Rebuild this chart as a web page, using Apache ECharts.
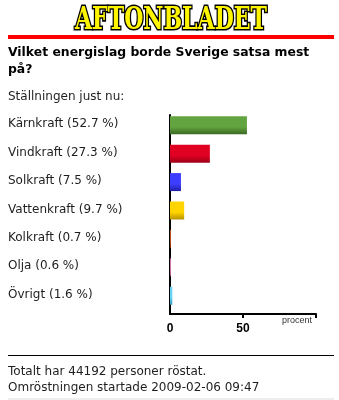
<!DOCTYPE html>
<html><head><meta charset="utf-8">
<script src="https://cdn.jsdelivr.net/npm/echarts@6/dist/echarts.min.js"></script>
<style>html,body{margin:0;padding:0;background:#fff}#c{width:339px;height:400px}</style>
</head><body><div id="c"></div>
<script>
const categories = ['Kärnkraft', 'Vindkraft', 'Solkraft', 'Vattenkraft', 'Kolkraft', 'Olja', 'Övrigt'];
const percentages = [52.7, 27.3, 7.5, 9.7, 0.7, 0.6, 1.6];
const xTickLabels = ['0', '50'];
const axisName = 'procent';
const logoText = 'AFTONBLADET';
const titleLines = ['Vilket energislag borde Sverige satsa mest', 'på?'];
const subtitleText = 'Ställningen just nu:';
const footerLines = ['Totalt har 44192 personer röstat.', 'Omröstningen startade 2009-02-06 09:47'];

const barColors = [
  ['#62a43f', '#3a6823'],
  ['#e00022', '#9c0016'],
  ['#3d3dff', '#1f1fa8'],
  ['#ffd400', '#b89200'],
  ['#c0501a', '#8a3008'],
  ['#ee80c8', '#b05090'],
  ['#66d4f4', '#3a9cc0']
];

const chart = echarts.init(document.getElementById('c'), null, {renderer: 'canvas'});
const txt = '#1e1e1e';
const font = '"DejaVu Sans", Verdana, sans-serif';

chart.setOption({
  animation: false,
  backgroundColor: '#fff',
  grid: {left: 170, top: 115, width: 146, height: 199, containLabel: false},
  xAxis: [{
    type: 'value', min: 0, max: 100, interval: 50,
    axisLine: {show: true, lineStyle: {color: '#000', width: 2}},
    axisTick: {show: true, inside: false, length: 4, lineStyle: {color: '#000', width: 2}, customValues: [50, 100]},
    axisLabel: {
      customValues: [0, 50],
      formatter: v => xTickLabels.includes(String(v)) ? String(v) : '',
      fontFamily: '"Liberation Sans", Arial, sans-serif', fontWeight: 'bold', fontSize: 12, color: '#000', margin: 9
    },
    splitLine: {show: false}
  }],
  yAxis: [{
    type: 'category', inverse: true, data: categories,
    axisLine: {show: true, lineStyle: {color: '#000', width: 2}},
    axisTick: {show: false},
    axisLabel: {
      formatter: (v, i) => `${v} (${percentages[i]} %)`,
      align: 'left', margin: 162, fontFamily: font, fontSize: 12, color: txt,
      verticalAlign: 'bottom', lineHeight: 10
    },
    splitLine: {show: false}
  }],
  series: [{
    type: 'bar', barWidth: 18, barGap: '0%',
    data: percentages.map((v, i) => ({
      value: v,
      itemStyle: {color: new echarts.graphic.LinearGradient(0, 0, 0, 1, [
        {offset: 0, color: barColors[i][0]}, {offset: 0.6, color: barColors[i][0]}, {offset: 1, color: barColors[i][1]}
      ])}
    }))
  }, {
    type: 'bar', barWidth: 8, silent: true,
    data: categories.map(() => '-')
  }],
  graphic: [
    {type: 'text', x: 171, y: 5, scaleX: 0.79, z: 10,
      style: {text: logoText, font: 'bold 31px "DejaVu Serif Condensed", "DejaVu Serif", serif',
        textAlign: 'center', textVerticalAlign: 'top',
        fill: '#fff500', stroke: '#000', lineWidth: 3.2,
        shadowColor: '#000', shadowOffsetX: 2, shadowOffsetY: 3, shadowBlur: 0}},
    {type: 'rect', shape: {x: 8, y: 35, width: 326, height: 4}, style: {fill: '#ff0000'}},
    {type: 'text', x: 8, y: 53, style: {text: titleLines[0], font: 'bold 12.4px ' + font, fill: '#000', verticalAlign: 'middle'}},
    {type: 'text', x: 8, y: 70, style: {text: titleLines[1], font: 'bold 12.4px ' + font, fill: '#000', verticalAlign: 'middle'}},
    {type: 'text', x: 8, y: 97, style: {text: subtitleText, font: '12px ' + font, fill: txt, verticalAlign: 'middle'}},
    {type: 'text', x: 282, y: 321, style: {text: axisName, font: '9px "Liberation Sans", Arial, sans-serif', fill: '#333', verticalAlign: 'middle'}},
    {type: 'line', shape: {x1: 8, y1: 355.5, x2: 334, y2: 355.5}, style: {stroke: '#000', lineWidth: 1}},
    {type: 'text', x: 8, y: 372, style: {text: footerLines[0], font: '12px ' + font, fill: txt, verticalAlign: 'middle'}},
    {type: 'text', x: 8, y: 388, style: {text: footerLines[1], font: '12px ' + font, fill: txt, verticalAlign: 'middle'}},
    {type: 'rect', shape: {x: 8, y: 398, width: 326, height: 2}, style: {fill: '#eeeeee'}}
  ]
});
</script></body></html>
